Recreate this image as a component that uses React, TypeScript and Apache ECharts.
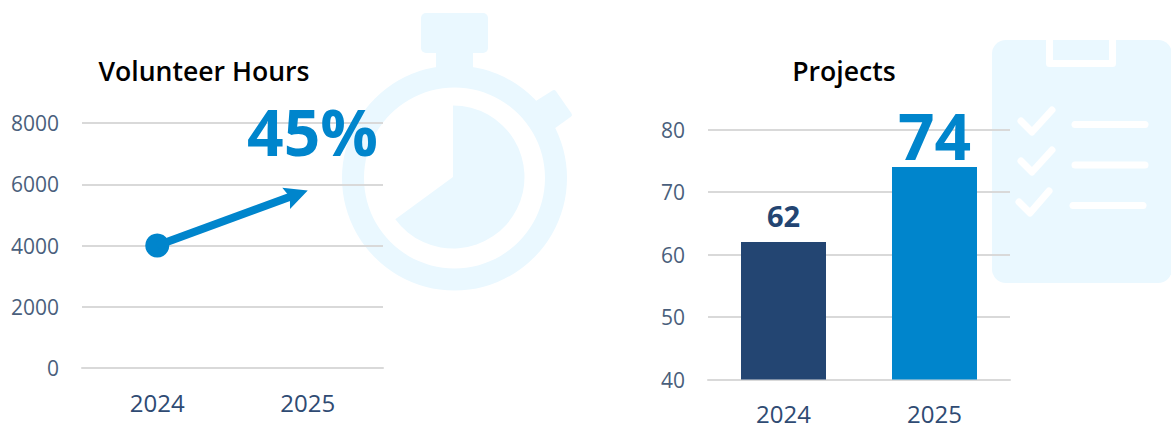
import React, { useEffect, useRef } from "react";
import * as echarts from "echarts";

const years = ["2024", "2025"];
const hours = [4000, 5800];
const projects = [62, 74];
const hoursTicks = { min: 0, max: 8000, interval: 2000 };
const projectTicks = { min: 40, max: 80, interval: 10 };
const hoursTitle = "Volunteer Hours";
const projectsTitle = "Projects";
const growthLabel = "45%";

const FONT = "'Open Sans', sans-serif";
const PALE = "#EAF8FF";
const BLUE = "#0085CC";
const NAVY = "#234572";
const GRID = "#D9D9D9";

const stopwatch = [
  { type: "ring", shape: { cx: 454.5, cy: 178, r: 112.5, r0: 90.5 } },
  { type: "rect", shape: { x: 421, y: 13, width: 67, height: 40, r: 5 } },
  { type: "rect", shape: { x: 436, y: 50, width: 37, height: 20 } },
  {
    type: "polygon",
    shape: { points: [[535, 104], [554, 92], [570, 115], [552, 128]] },
    style: { fill: PALE, stroke: PALE, lineWidth: 4, lineJoin: "round" },
  },
  {
    type: "sector",
    shape: { cx: 453, cy: 177, r: 71.5, r0: 0, startAngle: -Math.PI / 2, endAngle: 2.51, clockwise: true },
  },
];

const white = { fill: "none", stroke: "#FFFFFF", lineWidth: 7, lineCap: "round", lineJoin: "round" };
const checks = [
  [[1021, 121], [1032, 132], [1052, 110]],
  [[1021, 161], [1032, 172], [1052, 150]],
  [[1019, 202], [1030, 213], [1049, 191]],
];
const rows = [
  [1075, 1145, 124.5],
  [1075, 1145, 165],
  [1073, 1143, 205.5],
];

const axisText = (size: number, color: string) => ({ fontFamily: FONT, fontSize: size, color });

function renderTrend(params: any, api: any) {
  const p = api.coord([api.value(0), api.value(1)]);
  if (params.dataIndex === 0) {
    return { type: "circle", shape: { cx: p[0], cy: p[1], r: 12 }, style: { fill: BLUE } };
  }
  const s = api.coord([0, hours[0]]);
  const len = Math.hypot(p[0] - s[0], p[1] - s[1]);
  const u = [(p[0] - s[0]) / len, (p[1] - s[1]) / len];
  const n = [-u[1], u[0]];
  const at = (along: number, perp: number) => [p[0] + u[0] * along + n[0] * perp, p[1] + u[1] * along + n[1] * perp];
  return {
    type: "group",
    children: [
      {
        type: "line",
        shape: { x1: s[0], y1: s[1], x2: at(-18, 0)[0], y2: at(-18, 0)[1] },
        style: { stroke: BLUE, lineWidth: 8 },
      },
      {
        type: "polygon",
        shape: { points: [at(0, 0), at(-23, 11.3), at(-19, 0), at(-23, -11.3)] },
        style: { fill: BLUE },
      },
    ],
  };
}

export default function App() {
  const ref = useRef<HTMLDivElement>(null);
  useEffect(() => {
    document.body.style.margin = "0";
    const chart = echarts.init(ref.current!, undefined, { renderer: "svg" });
    const bg = (e: any) => ({ z: -10, silent: true, style: { fill: PALE }, ...e });
    const xAxis = (gridIndex: number) => ({
      gridIndex,
      type: "category",
      data: years,
      axisTick: { show: false },
      axisLine: { lineStyle: { color: GRID, width: 2 } },
      axisLabel: { ...axisText(24, "#2F4B73"), margin: 22 },
    });
    const yAxis = (gridIndex: number, t: any) => ({
      gridIndex,
      type: "value",
      ...t,
      axisLine: { show: false },
      axisTick: { show: false },
      splitLine: { lineStyle: { color: GRID, width: 2 } },
      axisLabel: { ...axisText(21, "#4A5F7C"), margin: 23, formatter: (v: number) => String(v) },
    });
    chart.setOption({
      animation: false,
      title: [
        {
          text: hoursTitle, left: 199, top: 52, textAlign: "center",
          textStyle: { fontFamily: FONT, fontSize: 26.6, fontWeight: 600, color: "#000" },
        },
        {
          text: projectsTitle, left: 839, top: 52, textAlign: "center",
          textStyle: { fontFamily: FONT, fontSize: 26.6, fontWeight: 600, color: "#000" },
        },
      ],
      grid: [
        { left: 82, width: 301, top: 123, height: 245 },
        { left: 708, width: 302, top: 129.5, height: 250 },
      ],
      xAxis: [xAxis(0), xAxis(1)],
      yAxis: [yAxis(0, hoursTicks), yAxis(1, projectTicks)],
      series: [
        {
          type: "custom",
          xAxisIndex: 0,
          yAxisIndex: 0,
          clip: false,
          renderItem: renderTrend,
          encode: { x: 0, y: 1 },
          data: hours.map((v, i) => [i, v]),
        },
        {
          type: "bar",
          xAxisIndex: 1,
          yAxisIndex: 1,
          barWidth: 85,
          data: [
            {
              value: projects[0],
              itemStyle: { color: NAVY },
              label: { show: true, position: "top", distance: 12, fontFamily: FONT, fontSize: 29, fontWeight: 700, color: NAVY },
            },
            {
              value: projects[1],
              itemStyle: { color: BLUE },
              label: { show: true, position: "top", distance: 0, fontFamily: FONT, fontSize: 64, fontWeight: 700, color: BLUE },
            },
          ],
        },
      ],
      graphic: [
        ...stopwatch.map(bg),
        bg({ type: "rect", shape: { x: 992, y: 40, width: 180, height: 243, r: 14 } }),
        bg({
          type: "polyline",
          z: -9,
          shape: { points: [[1049.5, 40], [1049.5, 63.5], [1112.5, 63.5], [1112.5, 40]] },
          style: { ...white, lineCap: "butt" },
        }),
        ...checks.map((points) => bg({ type: "polyline", z: -9, shape: { points }, style: white })),
        ...rows.map(([x1, x2, y]) => bg({ type: "line", z: -9, shape: { x1, y1: y, x2, y2: y }, style: white })),
        {
          type: "text",
          z: 10,
          x: 312.5,
          y: 131,
          style: {
            text: growthLabel,
            fontFamily: FONT,
            fontSize: 64,
            fontWeight: 700,
            fill: BLUE,
            align: "center",
            verticalAlign: "middle",
          },
        },
      ],
    });
    return () => chart.dispose();
  }, []);
  return <div ref={ref} style={{ width: 1171, height: 428 }} />;
}
